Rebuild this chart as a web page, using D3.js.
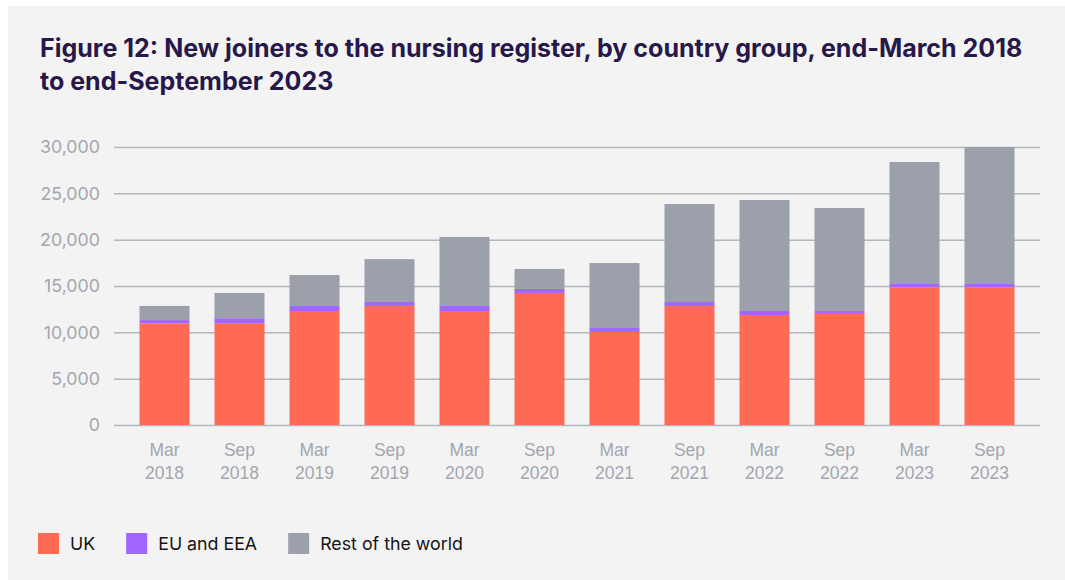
<!DOCTYPE html>
<html>
<head>
<meta charset="utf-8">
<script src="https://cdn.jsdelivr.net/npm/d3@7"></script>
<style>
    body { margin: 0; background: #fff; }
    svg { display: block; font-family: Inter, "Noto Sans", sans-serif; }
</style>
</head>
<body>
<svg id="chart"></svg>
<script>
// periods on the x axis (two-line labels)
const periods = ['Mar 2018', 'Sep 2018', 'Mar 2019', 'Sep 2019', 'Mar 2020', 'Sep 2020',
    'Mar 2021', 'Sep 2021', 'Mar 2022', 'Sep 2022', 'Mar 2023', 'Sep 2023'];

// new joiners by country group
const ukValues   = [10975, 10975, 12300, 12850, 12300, 14250, 10040, 12840, 11870, 12090, 14860, 14860];
const euValues   = [350, 550, 540, 430, 540, 430, 430, 430, 430, 220, 360, 360];
const restValues = [1525, 2725, 3350, 4620, 7450, 2160, 7010, 10580, 11980, 11110, 13160, 14780];

const yTicks = [0, 5000, 10000, 15000, 20000, 25000, 30000];

const seriesKeys = ['UK', 'EU and EEA', 'Rest of the world'];
const seriesColors = ['#ff6a55', '#a066ff', '#9ca0ab'];

initChart();

function initChart() {
    const width = 1065, height = 580;
    const margin = { left: 114, right: 25, top: 147, bottom: 155 };

    const svg = d3.select('#chart')
        .attr('width', width)
        .attr('height', height);

    // light grey panel
    svg.append('rect')
        .attr('x', 8).attr('y', 6)
        .attr('width', width - 8).attr('height', height - 6)
        .attr('fill', '#f3f3f3');

    // title, scaled to fit the first line width
    const title = svg.append('text')
        .attr('x', 40)
        .attr('fill', '#28184a')
        .attr('font-weight', 700)
        .attr('font-size', 22);
    title.append('tspan').attr('x', 40).attr('y', 57)
        .text('Figure 12: New joiners to the nursing register, by country group, end-March 2018');
    title.append('tspan').attr('x', 40).attr('y', 90)
        .text('to end-September 2023');
    const firstLine = title.select('tspan').node().getComputedTextLength();
    title.attr('font-size', 22 * 983 / firstLine);

    // build rows for stacking
    const rows = periods.map((p, i) => ({
        period: p,
        'UK': ukValues[i],
        'EU and EEA': euValues[i],
        'Rest of the world': restValues[i]
    }));
    const stacked = d3.stack().keys(seriesKeys)(rows);

    const x = d3.scaleBand()
        .domain(periods)
        .range([margin.left, width - margin.right])
        .paddingInner(1 / 3)
        .paddingOuter(0.34);

    const y = d3.scaleLinear()
        .domain([0, 30000])
        .range([height - margin.bottom, margin.top]);

    // gridlines + y labels
    const yAxis = svg.append('g')
        .attr('transform', 'translate(' + margin.left + ',0)')
        .call(d3.axisLeft(y)
            .tickValues(yTicks)
            .tickSize(-(width - margin.left - margin.right))
            .tickPadding(14)
            .tickFormat(d3.format(',')));
    yAxis.select('.domain').remove();
    yAxis.selectAll('.tick line')
        .attr('stroke', '#b3b6be')
        .attr('stroke-width', 1.5);
    yAxis.selectAll('.tick text')
        .attr('fill', '#a3a6b0')
        .attr('font-size', 17.8)
        .attr('font-family', 'Inter, sans-serif');

    // stacked bars
    svg.append('g')
        .selectAll('g')
        .data(stacked)
        .join('g')
        .attr('fill', (d, i) => seriesColors[i])
        .selectAll('rect')
        .data((d) => d)
        .join('rect')
        .attr('x', (d) => x(d.data.period))
        .attr('width', x.bandwidth())
        .attr('y', (d) => y(d[1]))
        .attr('height', (d) => y(d[0]) - y(d[1]));

    // x labels on two lines
    const xAxis = svg.append('g')
        .attr('transform', 'translate(0,' + (height - margin.bottom) + ')')
        .call(d3.axisBottom(x).tickSize(0).tickFormat(''));
    xAxis.select('.domain').remove();
    xAxis.selectAll('.tick').each(function (d) {
        const parts = d.split(' ');
        const t = d3.select(this).append('text')
            .attr('fill', '#a3a6b0')
            .attr('font-size', 17.5)
            .attr('text-anchor', 'middle');
        t.append('tspan').attr('x', 0).attr('y', 31).text(parts[0]);
        t.append('tspan').attr('x', 0).attr('y', 54).text(parts[1]);
    });

    // legend
    const legend = svg.append('g').attr('transform', 'translate(38,533)');
    let lx = 0;
    seriesKeys.forEach((k, i) => {
        const item = legend.append('g').attr('transform', 'translate(' + lx + ',0)');
        item.append('rect')
            .attr('width', 21).attr('height', 21)
            .attr('fill', seriesColors[i]);
        const label = item.append('text')
            .attr('x', 32).attr('y', 17)
            .attr('fill', '#151515')
            .attr('font-size', 17.8)
            .text(k);
        lx += 32 + label.node().getComputedTextLength() + 31;
    });
}
</script>
</body>
</html>
